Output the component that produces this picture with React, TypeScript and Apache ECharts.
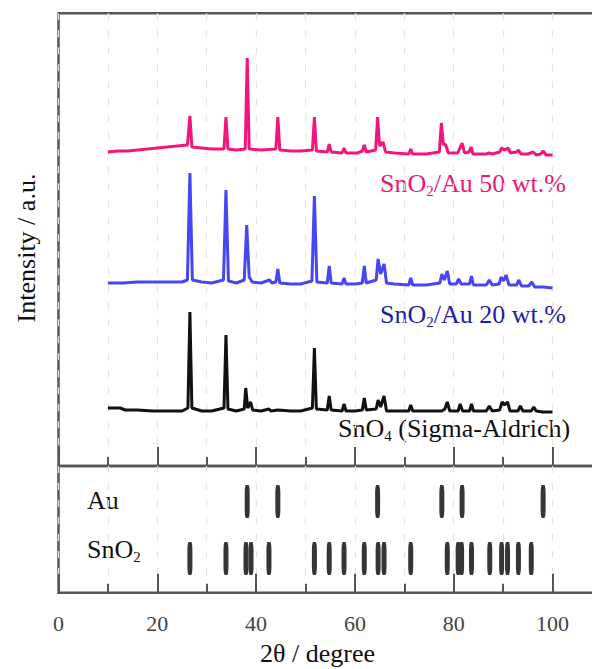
import React, { useEffect, useRef } from 'react';
import * as echarts from 'echarts';

const SERIF = 'Liberation Serif';

// 2θ (degree) vs intensity (a.u.)
const pinkTrace: [number, number][] = [
  [10, 314], [12, 315], [14, 315], [16, 316], [18, 317], [20, 318], [22, 319], [24, 320],
  [26.1, 321], [26.6, 350], [27.0, 319], [29, 318], [31, 317], [33.5, 317], [33.9, 349], [34.3, 317],
  [36, 316], [37.8, 317], [38.2, 408], [38.6, 317], [41, 316], [44.0, 317], [44.4, 349], [44.8, 316],
  [47, 315], [49, 315], [51.4, 316], [51.8, 349], [52.2, 315], [54.4, 314], [54.8, 322], [55.2, 314],
  [57.4, 313], [57.8, 318], [58.2, 313], [60.5, 313], [61.5, 315], [61.9, 321], [62.3, 314],
  [64.2, 316], [64.6, 349], [65.0, 320], [65.7, 324], [66.2, 314], [68, 313], [70.9, 312], [71.3, 317],
  [71.7, 312], [74.5, 312], [77.1, 314], [77.5, 343], [77.9, 322], [78.4, 321], [78.9, 313],
  [80.8, 313], [81.7, 323], [82.2, 313], [83.1, 314], [83.5, 319], [83.9, 312], [86.6, 312],
  [87.2, 313], [87.8, 312], [89.3, 314], [89.7, 318], [90.3, 316], [91.0, 318], [91.5, 313],
  [92.7, 314], [93.1, 316], [93.6, 312], [95, 312], [96.1, 314], [96.7, 311], [97.6, 312],
  [98.1, 315], [98.7, 311], [100, 311],
];

const blueTrace: [number, number][] = [
  [10, 183], [13, 183], [16, 184], [19, 184], [22, 184], [25, 184], [26.1, 186], [26.6, 293], [27.1, 186],
  [29, 184], [31, 183], [33.4, 186], [33.9, 276], [34.4, 185], [36, 183], [37.6, 186], [38.1, 241],
  [38.6, 189], [39.2, 184], [41, 183], [42.7, 186], [43.2, 183], [44.0, 184], [44.4, 197], [44.8, 183],
  [47, 182], [49, 182], [51.3, 185], [51.8, 270], [52.3, 184], [54.4, 183], [54.8, 200], [55.2, 183],
  [57.4, 182], [57.8, 188], [58.2, 182], [60, 182], [61.5, 183], [61.9, 200], [62.3, 183],
  [64.3, 186], [64.7, 207], [65.2, 192], [65.9, 202], [66.4, 183], [68, 182], [70.9, 181], [71.3, 188],
  [71.7, 181], [74.5, 181], [77.2, 183], [77.6, 192], [78.1, 186], [78.7, 195], [79.2, 182],
  [80.5, 182], [81.0, 187], [81.5, 182], [83.2, 182], [83.6, 190], [84.0, 181], [86.6, 181],
  [87.2, 186], [87.8, 181], [89.2, 182], [89.6, 189], [90.1, 185], [90.6, 191], [91.2, 181],
  [92.7, 181], [93.2, 186], [93.7, 180], [95.2, 180], [95.8, 184], [96.4, 179], [98, 179], [100, 178],
];

const blackTrace: [number, number][] = [
  [10, 58], [12.5, 58], [13.5, 56], [16, 56], [19, 55], [22, 55], [25, 55], [26.2, 58], [26.6, 154],
  [27.0, 58], [29, 55], [31, 55], [33.5, 58], [33.9, 131], [34.3, 57], [36, 55], [37.6, 57], [37.9, 78],
  [38.3, 58], [38.9, 64], [39.3, 56], [41, 55], [42.6, 57], [43, 55], [44.4, 56], [47, 55], [49, 55],
  [51.4, 58], [51.8, 118], [52.2, 57], [54.4, 56], [54.8, 70], [55.2, 56], [57.4, 55], [57.8, 62],
  [58.2, 55], [60, 55], [61.5, 56], [61.9, 68], [62.3, 56], [64.3, 57], [64.7, 66], [65.2, 59],
  [65.9, 70], [66.4, 55], [68, 55], [70.9, 55], [71.3, 61], [71.7, 55], [74.5, 55], [77.6, 55],
  [78.2, 57], [78.7, 64], [79.2, 55], [80.9, 55], [81.3, 62], [81.8, 55], [83.2, 55], [83.6, 62],
  [84.0, 55], [86.6, 55], [87.2, 60], [87.8, 55], [89.3, 56], [89.8, 64], [90.3, 61], [90.9, 64],
  [91.4, 55], [93.0, 55], [93.5, 60], [94.0, 55], [95.7, 55], [96.2, 59], [96.7, 55], [98, 54], [100, 54],
];

// reference stick patterns (2θ positions)
const auSticks = [38.2, 44.4, 64.6, 77.6, 81.7, 98.1];
const sno2Sticks = [
  26.6, 33.9, 37.95, 38.97, 42.6, 51.8, 54.8, 57.8, 61.9, 64.7, 65.9, 71.3, 78.7, 80.9, 81.6,
  83.6, 87.3, 89.7, 90.9, 93.1, 95.7,
];

const xLabels = [0, 20, 40, 60, 80, 100];

const AU_ROW = 72;
const SNO2_ROW = 27;

export default function App() {
  const ref = useRef<HTMLDivElement>(null);
  useEffect(() => {
    document.body.style.overflow = 'hidden';
    const chart = echarts.init(ref.current!, null, { renderer: 'svg' });
    const pxPerUnit = 4.94;
    const left = 58.5;
    const gridW = 120 * pxPerUnit;

    const dash = { color: '#e4e4e4', type: [7, 10] as any, width: 1.2 };
    const xAxis = (gridIndex: number, labels: boolean) => ({
      type: 'value',
      gridIndex,
      min: 0,
      max: 120,
      interval: 20,
      axisLine: { show: false, onZero: false },
      axisTick: { show: true, inside: true, length: 19, lineStyle: { color: '#555', width: 2 } },
      minorTick: { show: true, splitNumber: 2, length: 9, lineStyle: { color: '#555', width: 2 } },
      splitLine: { show: true, lineStyle: dash },
      minorSplitLine: { show: true, lineStyle: dash },
      axisLabel: labels
        ? {
            show: true,
            margin: 20,
            fontSize: 22,
            lineHeight: 22,
            fontFamily: SERIF,
            color: '#444',
            formatter: (v: number) => (xLabels.includes(v) ? String(v) : ''),
          }
        : { show: false },
    });

    const rich = (fill: string) => ({
      m: { fontSize: 26, lineHeight: 30, fontFamily: SERIF, fill },
      s: { fontSize: 15, lineHeight: 19, verticalAlign: 'bottom', fontFamily: SERIF, fill },
    });

    const label = (x: number, y: number, text: string, fill: string) => ({
      type: 'text',
      x,
      y,
      silent: true,
      style: { text, rich: rich(fill), fill, fontFamily: SERIF, fontSize: 26, align: 'left', verticalAlign: 'top' },
    });

    chart.setOption({
      animation: false,
      backgroundColor: '#ffffff',
      textStyle: { fontFamily: SERIF },
      grid: [
        { left, top: 13.3, width: gridW, height: 452.7, show: true, borderColor: '#555', borderWidth: 2.5, backgroundColor: 'transparent' },
        { left, top: 466, width: gridW, height: 126.7, show: true, borderColor: '#555', borderWidth: 2.5, backgroundColor: 'transparent' },
      ],
      xAxis: [xAxis(0, false), xAxis(1, true)],
      yAxis: [
        { type: 'value', gridIndex: 0, min: 0, max: 452.7, show: false },
        { type: 'value', gridIndex: 1, min: 0, max: 100, show: false },
      ],
      series: [
        { type: 'line', xAxisIndex: 0, yAxisIndex: 0, data: pinkTrace, symbol: 'none', lineStyle: { color: '#f2157c', width: 3 }, silent: true },
        { type: 'line', xAxisIndex: 0, yAxisIndex: 0, data: blueTrace, symbol: 'none', lineStyle: { color: '#4646f4', width: 3 }, silent: true },
        { type: 'line', xAxisIndex: 0, yAxisIndex: 0, data: blackTrace, symbol: 'none', lineStyle: { color: '#111111', width: 3 }, silent: true },
        {
          type: 'scatter', xAxisIndex: 1, yAxisIndex: 1, silent: true,
          data: auSticks.map((x) => [x, AU_ROW]),
          symbol: 'roundRect', symbolSize: [5, 33], itemStyle: { color: '#353535', opacity: 1 },
        },
        {
          type: 'scatter', xAxisIndex: 1, yAxisIndex: 1, silent: true,
          data: sno2Sticks.map((x) => [x, SNO2_ROW]),
          symbol: 'roundRect', symbolSize: [5, 33], itemStyle: { color: '#353535', opacity: 1 },
        },
      ],
      graphic: [
        label(380, 168, '{m|SnO}{s|2}{m|/Au 50 wt.%}', '#ec1679'),
        label(380, 299, '{m|SnO}{s|2}{m|/Au 20 wt.%}', '#1c1ca6'),
        label(338, 413, '{m|SnO}{s|4}{m| (Sigma-Aldrich)}', '#111111'),
        label(87, 485, '{m|Au}', '#111111'),
        label(87, 534.5, '{m|SnO}{s|2}', '#111111'),
        label(260, 638, '{m|2θ / degree}', '#111111'),
        {
          type: 'text',
          x: 26.5,
          y: 248,
          rotation: Math.PI / 2,
          silent: true,
          style: {
            text: 'Intensity / a.u.',
            fontSize: 26,
            fontFamily: SERIF,
            fill: '#111111',
            align: 'center',
            verticalAlign: 'middle',
          },
        },
      ],
    });
    return () => chart.dispose();
  }, []);
  return <div ref={ref} style={{ position: 'absolute', left: 0, top: 0, width: 680, height: 669 }} />;
}
